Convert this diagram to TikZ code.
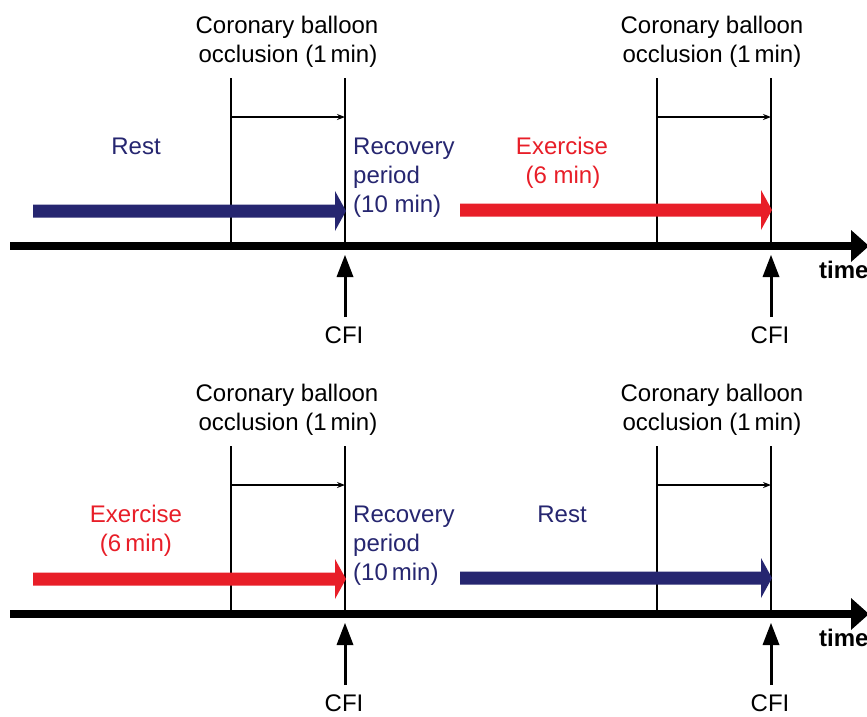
\documentclass[tikz,border=0pt]{standalone}
\usepackage{fontspec}
\setmainfont{Liberation Sans}
\usetikzlibrary{arrows.meta,calc}
\definecolor{navy}{RGB}{38,38,112}
\definecolor{exred}{RGB}{232,30,40}

\tikzset{
  lbl/.style={font=\fontsize{24}{29}\selectfont, inner sep=0pt, anchor=base},
  lblw/.style={lbl, anchor=base west},
  vline/.style={line width=2pt, black},
  dur/.style={line width=1.2pt, -{Stealth[length=8pt,width=6pt]}},
  axisarrow/.style={line width=8pt, -{Triangle[length=18pt,width=32pt,line width=0pt]}},
  cfiarrow/.style={line width=3pt, -{Triangle[length=22pt,width=17pt,line width=0pt]}},
}

% fat block arrow from coordinate #2 to coordinate #3 (horizontal), colour #1
\newcommand{\fatarrow}[3]{%
  \fill[#1] ($(#2)+(0,-6.5)$) -- ($(#3)+(-11,-6.5)$) -- ($(#3)+(-11,-20)$)
    -- (#3) -- ($(#3)+(-11,20)$) -- ($(#3)+(-11,6.5)$) -- ($(#2)+(0,6.5)$) -- cycle;}

\newcommand{\panelframe}[1]{%
  \coordinate (#1ax0) at (10,246);
  \coordinate (#1ax1) at (869,246);
  \draw[axisarrow] (#1ax0) -- (#1ax1);
  % vertical occlusion lines
  \coordinate (#1aTop) at (231,78);  \coordinate (#1aBot) at (231,246);
  \coordinate (#1bTop) at (345,78);  \coordinate (#1bBot) at (345,246);
  \coordinate (#1cTop) at (657,78);  \coordinate (#1cBot) at (657,246);
  \coordinate (#1dTop) at (771,78);  \coordinate (#1dBot) at (771,246);
  \draw[vline] (#1aTop) -- (#1aBot);
  \draw[vline] (#1bTop) -- (#1bBot);
  \draw[vline] (#1cTop) -- (#1cBot);
  \draw[vline] (#1dTop) -- (#1dBot);
  % 1 min duration arrows
  \coordinate (#1aDur) at (231,117); \coordinate (#1bDur) at (345,117);
  \coordinate (#1cDur) at (657,117); \coordinate (#1dDur) at (771,117);
  \draw[dur] (#1aDur) -- (#1bDur);
  \draw[dur] (#1cDur) -- (#1dDur);
  % occlusion labels
  \node[lbl] (#1corA1) at (287,33) {Coronary balloon};
  \node[lbl] (#1corA2) at (288,62) {occlusion (1\,min)};
  \node[lbl] (#1corB1) at (712,33) {Coronary balloon};
  \node[lbl] (#1corB2) at (712,62) {occlusion (1\,min)};
  % CFI arrows
  \coordinate (#1cfiA0) at (345,317); \coordinate (#1cfiA1) at (345,255);
  \coordinate (#1cfiB0) at (771,317); \coordinate (#1cfiB1) at (771,255);
  \draw[cfiarrow] (#1cfiA0) -- (#1cfiA1);
  \draw[cfiarrow] (#1cfiB0) -- (#1cfiB1);
  \node[lbl] (#1cfiAtxt) at (344,343) {CFI};
  \node[lbl] (#1cfiBtxt) at (770,343) {CFI};
  % time label
  \node[lblw, font=\fontsize{24}{29}\selectfont\bfseries] (#1time) at (819,278) {time};
}

\begin{document}
\begin{tikzpicture}[x=1pt,y=-1pt]
\useasboundingbox (0,0) rectangle (867,716);
\fill[white] (0,0) rectangle (867,716);

% ---------------- top panel ----------------
\begin{scope}
  \panelframe{t}
  \coordinate (tL0) at (33,211);  \coordinate (tL1) at (346,211);
  \coordinate (tR0) at (460,210); \coordinate (tR1) at (772,210);
  \fatarrow{navy}{tL0}{tL1}
  \fatarrow{exred}{tR0}{tR1}
  \node[lbl, navy] (tRest) at (136,154) {Rest};
  \node[lblw, navy] (tRec1) at (353,154) {Recovery};
  \node[lblw, navy] (tRec2) at (353,183) {period};
  \node[lblw, navy] (tRec3) at (353,212) {(10 min)};
  \node[lbl, exred] (tEx1) at (562,154) {Exercise};
  \node[lbl, exred] (tEx2) at (563,183) {(6 min)};
\end{scope}

% ---------------- bottom panel ----------------
\begin{scope}[shift={(0,368)}]
  \panelframe{b}
  \coordinate (bL0) at (33,211);  \coordinate (bL1) at (346,211);
  \coordinate (bR0) at (460,210); \coordinate (bR1) at (772,210);
  \fatarrow{exred}{bL0}{bL1}
  \fatarrow{navy}{bR0}{bR1}
  \node[lbl, exred] (bEx1) at (136,154) {Exercise};
  \node[lbl, exred] (bEx2) at (136,183) {(6\,min)};
  \node[lblw, navy] (bRec1) at (353,154) {Recovery};
  \node[lblw, navy] (bRec2) at (353,183) {period};
  \node[lblw, navy] (bRec3) at (353,212) {(10\,min)};
  \node[lbl, navy] (bRest) at (562,154) {Rest};
\end{scope}
\end{tikzpicture}
\end{document}
